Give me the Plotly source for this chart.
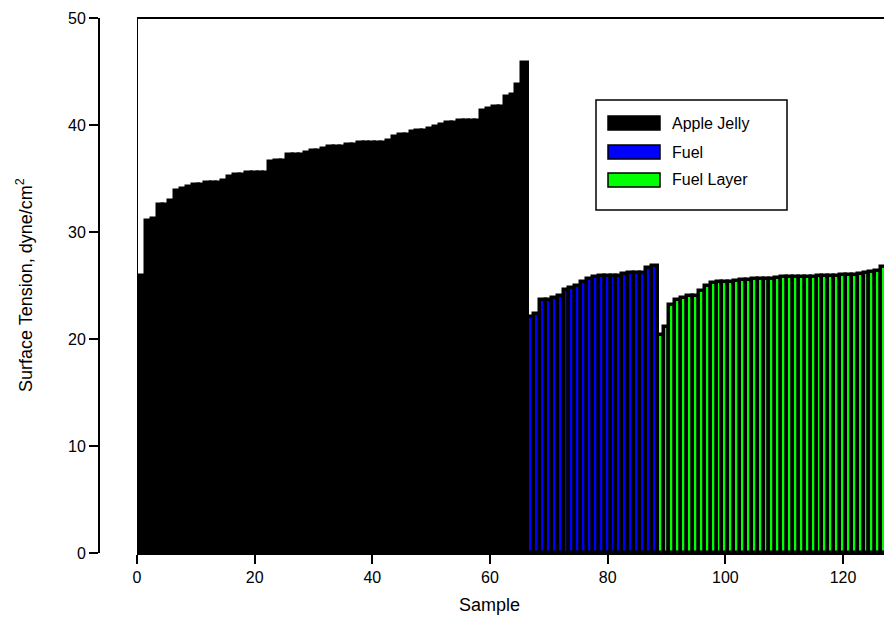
import plotly.graph_objects as go

apple_jelly = [25.9, 31.0, 31.2, 32.5, 32.5, 32.9, 33.8, 34.0, 34.2, 34.4,
               34.4, 34.6, 34.6, 34.6, 34.8, 35.1, 35.3, 35.3, 35.5, 35.5,
               35.5, 35.5, 36.5, 36.6, 36.6, 37.2, 37.2, 37.2, 37.4, 37.6,
               37.6, 37.8, 37.9, 37.9, 37.9, 38.1, 38.1, 38.3, 38.3, 38.3,
               38.3, 38.3, 38.5, 38.9, 39.1, 39.1, 39.3, 39.4, 39.4, 39.6,
               39.8, 40.0, 40.2, 40.2, 40.4, 40.4, 40.4, 40.4, 41.3, 41.5,
               41.7, 41.7, 42.6, 42.8, 43.7, 45.8]
fuel = [22.1, 22.3, 23.6, 23.6, 23.8, 24.0, 24.6, 24.8, 25.0, 25.3, 25.6,
        25.8, 25.9, 25.9, 25.9, 25.9, 26.1, 26.2, 26.2, 26.2, 26.6, 26.8]
fuel_layer = [20.4, 21.1, 23.2, 23.6, 23.8, 24.0, 24.0, 24.5, 25.0, 25.2,
              25.3, 25.3, 25.3, 25.4, 25.5, 25.5, 25.6, 25.6, 25.6, 25.6,
              25.7, 25.8, 25.8, 25.8, 25.8, 25.8, 25.8, 25.9, 25.9, 25.9,
              25.9, 26.0, 26.0, 26.0, 26.1, 26.2, 26.3, 26.4, 26.7, 26.9]
series_names = ["Apple Jelly", "Fuel", "Fuel Layer"]
series_colors = ["#000000", "#0000FF", "#00FF00"]
x_ticks = [0, 20, 40, 60, 80, 100, 120]
y_ticks = [0, 10, 20, 30, 40, 50]

# page body has an 8px margin; work in reference pixels and shift
OFF = 8
W, H = 892 - OFF, 637 - OFF
ML, MR, MT, MB = 99 - OFF, 0, 18 - OFF, 637 - 553
PW, PH = W - ML - MR, H - MT - MB
x0_ref = 137
dom0 = (x0_ref - 99) / PW

font = "Arial, Liberation Sans, sans-serif"

fig = go.Figure()
start = 1
for name, vals, col in zip(series_names, [apple_jelly, fuel, fuel_layer], series_colors):
    xs = list(range(start, start + len(vals)))
    start += len(vals)
    fig.add_trace(go.Bar(x=xs, y=vals, name=name, width=1,
                         marker=dict(color=col, line=dict(color="black", width=3.5)),
                         showlegend=False))

px_per_unit = (843 - 137) / 120.0
xmax = (892 - x0_ref) / px_per_unit

fig.update_layout(
    width=W, height=H,
    margin=dict(l=ML, r=MR, t=MT, b=MB, autoexpand=False),
    plot_bgcolor="white", paper_bgcolor="white",
    bargap=0,
    showlegend=False,
    font=dict(family=font, size=16, color="black"),
    xaxis=dict(domain=[dom0, 1], range=[0, xmax], tickvals=x_ticks,
               ticktext=[str(v) for v in x_ticks],
               showline=True, linecolor="black", linewidth=2,
               ticks="outside", ticklen=9, tickwidth=2, tickcolor="black",
               showgrid=False, zeroline=False, tickfont=dict(size=16)),
    yaxis=dict(range=[0, 50], anchor="free", position=0, tickvals=y_ticks,
               ticktext=[str(v) for v in y_ticks],
               showline=True, linecolor="black", linewidth=2,
               ticks="outside", ticklen=9, tickwidth=2, tickcolor="black",
               showgrid=False, zeroline=False, tickfont=dict(size=16)),
)

# frame lines: left at x=0 and top
fig.add_shape(type="line", xref="x", yref="y", x0=0, x1=0, y0=0, y1=50,
              line=dict(color="black", width=2))
fig.add_shape(type="line", xref="paper", yref="paper", x0=dom0, x1=1, y0=1, y1=1,
              line=dict(color="black", width=2))

def px(xp):
    return (xp - 99) / PW

def py(yp):
    return (553 - yp) / PH

# custom legend
fig.add_shape(type="rect", xref="paper", yref="paper",
              x0=px(596), x1=px(787), y0=py(210), y1=py(100),
              line=dict(color="black", width=1.5), fillcolor="white")
sw_tops = [116, 145, 173]
for name, col, t in zip(series_names, series_colors, sw_tops):
    fig.add_shape(type="rect", xref="paper", yref="paper",
                  x0=px(608), x1=px(660), y0=py(t + 14), y1=py(t),
                  line=dict(color="black", width=1.5), fillcolor=col)
    fig.add_annotation(xref="paper", yref="paper", x=px(670), y=py(t + 7),
                       text=name, showarrow=False, xanchor="left", yanchor="middle",
                       font=dict(size=16, color="black", family=font))

# axis titles
fig.add_annotation(xref="paper", yref="paper", x=px(489), y=py(605),
                   text="Sample", showarrow=False, xanchor="center", yanchor="middle",
                   font=dict(size=18, color="black", family=font))
fig.add_annotation(xref="paper", yref="paper", x=px(24), y=py(285),
                   text="Surface Tension, dyne/cm<sup>2</sup>", showarrow=False,
                   textangle=-90, xanchor="center", yanchor="middle",
                   font=dict(size=18, color="black", family=font))

fig.write_html("out.html")
